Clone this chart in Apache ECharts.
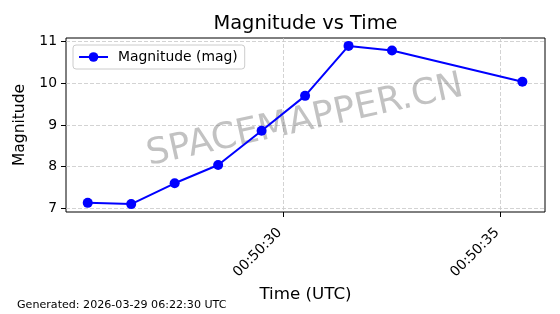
<!DOCTYPE html>
<html>
<head>
<meta charset="utf-8">
<script src="https://cdn.jsdelivr.net/npm/echarts@6/dist/echarts.min.js"></script>
<style>
html,body{margin:0;padding:0;background:#fff;}
#chart{width:560px;height:314px;}
</style>
</head>
<body>
<div id="chart"></div>
<script>
// ---- data ----
var times = ['00:50:25.5','00:50:26.5','00:50:27.5','00:50:28.5','00:50:29.5','00:50:30.5','00:50:31.5','00:50:32.5','00:50:35.5'];
var magnitudes = [7.13, 7.10, 7.60, 8.04, 8.86, 9.70, 10.90, 10.79, 10.04];
var xTickLabels = ['00:50:30', '00:50:35'];
var yTicks = [7, 8, 9, 10, 11];
var seriesName = 'Magnitude (mag)';
var titleText = 'Magnitude vs Time';
var xName = 'Time (UTC)';
var yName = 'Magnitude';
var footerText = 'Generated: 2026-03-29 06:22:30 UTC';
var watermarkText = 'SPACEMAPPER.CN';

function toSec(t){var p=t.split(':');return (+p[0])*3600+(+p[1])*60+(+p[2]);}
function pad(n){return (n<10?'0':'')+n;}
function fmt(s){s=Math.round(s);var h=Math.floor(s/3600),m=Math.floor((s%3600)/60),ss=s%60;return pad(h)+':'+pad(m)+':'+pad(ss);}

var data = times.map(function(t,i){return [toSec(t), magnitudes[i]];});
var xTickVals = xTickLabels.map(toSec);
var font = 'DejaVu Sans';

var chart = echarts.init(document.getElementById('chart'), null, {renderer:'canvas'});
chart.setOption({
  animation:false,
  backgroundColor:'#ffffff',
  textStyle:{fontFamily:font},
  grid:{left:66, right:15, top:38, bottom:102, show:true, borderColor:'#000', borderWidth:1, backgroundColor:'transparent'},
  legend:{
    left:73, top:45, orient:'vertical',
    itemWidth:29, itemHeight:12,
    padding:[5,7,5,5],
    backgroundColor:'rgba(255,255,255,0.8)',
    borderColor:'#cccccc', borderWidth:1, borderRadius:3,
    textStyle:{fontFamily:font, fontSize:13.9, color:'#000', padding:[0,0,0,5]},
    data:[seriesName]
  },
  xAxis:{
    type:'value',
    min:toSec('00:50:25.0'), max:toSec('00:50:36.02'),
    name:xName, nameLocation:'middle', nameGap:64,
    nameTextStyle:{fontFamily:font, fontSize:16.7, color:'#000'},
    axisLine:{show:false},
    axisTick:{show:true, length:5, lineStyle:{color:'#000'}, customValues:xTickVals},
    axisLabel:{customValues:xTickVals, rotate:45, margin:15, padding:[0,5,0,0], fontFamily:font, fontSize:13.9, color:'#000', formatter:function(v){return fmt(v);}},
    splitLine:{show:true, lineStyle:{color:'#c8c8c8', width:0.8, type:[4,2]}}
  },
  yAxis:{
    type:'value',
    min:6.91, max:11.09,
    name:yName, nameLocation:'middle', nameGap:30,
    nameTextStyle:{fontFamily:font, fontSize:15.5, color:'#000'},
    axisLine:{show:false},
    axisTick:{show:true, length:5, lineStyle:{color:'#000'}, customValues:yTicks},
    axisLabel:{customValues:yTicks, margin:9, fontFamily:font, fontSize:13.9, color:'#000'},
    splitLine:{show:true, lineStyle:{color:'#c8c8c8', width:0.8, type:[4,2]}}
  },
  graphic:[
    {type:'text', z:-1, style:{text:titleText, x:305.5, y:24, fontFamily:font, fontSize:19.4, fill:'#000', textAlign:'center', textVerticalAlign:'middle'}},
    {type:'text', z:-1, style:{text:footerText, x:17, y:305, fontFamily:font, fontSize:11.1, fill:'#000', textAlign:'left', textVerticalAlign:'middle'}},
    {type:'text', z:1, x:305, y:121, rotation:12.5*Math.PI/180, style:{text:watermarkText, x:0, y:0, fontFamily:font, fontSize:36, fill:'rgba(128,128,128,0.48)', textAlign:'center', textVerticalAlign:'middle'}}
  ],
  series:[{
    name:seriesName, type:'line', data:data, z:5,
    symbol:'circle', symbolSize:10,
    lineStyle:{color:'#0000ff', width:2},
    itemStyle:{color:'#0000ff'}
  }]
});
</script>
</body>
</html>
